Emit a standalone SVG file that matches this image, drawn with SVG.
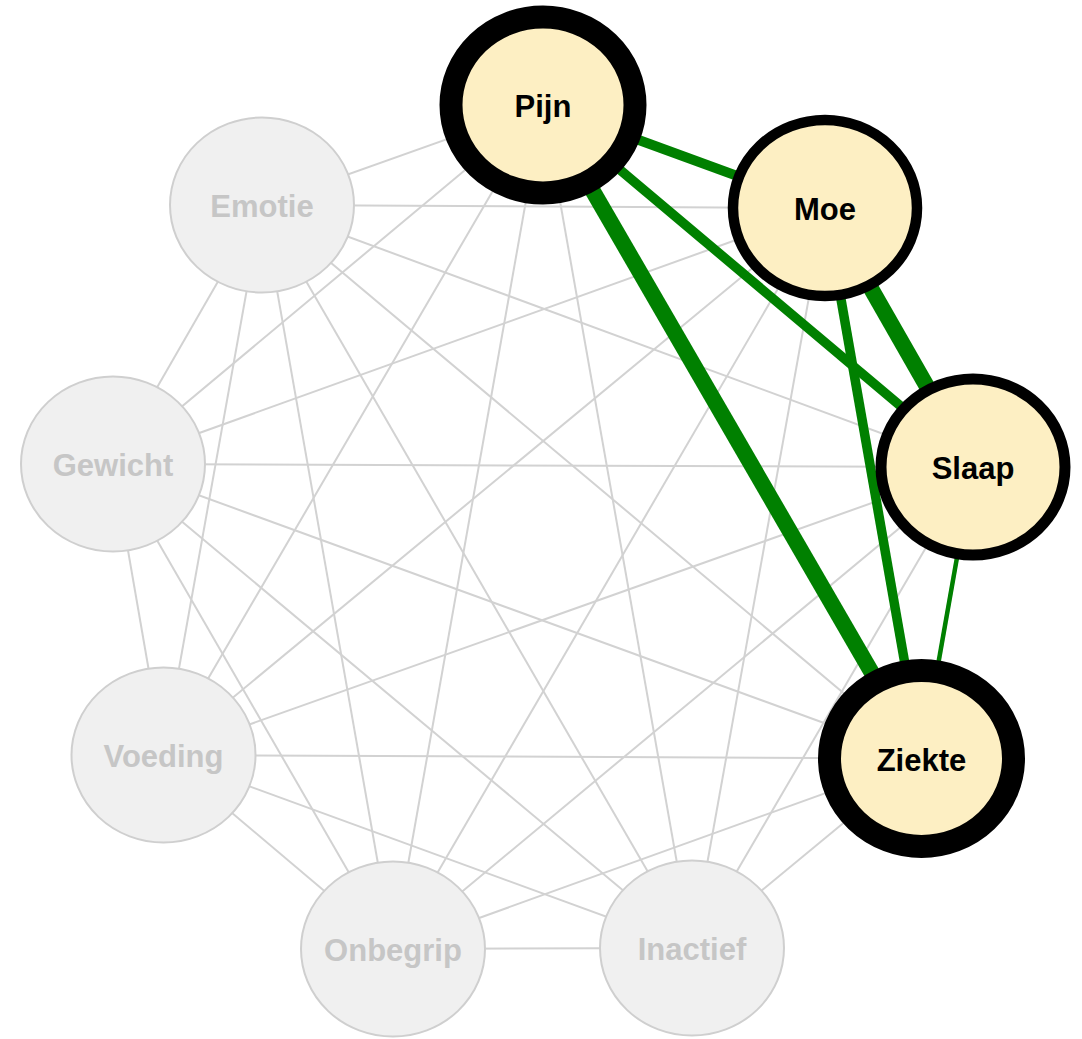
<svg xmlns="http://www.w3.org/2000/svg" width="1082" height="1039" viewBox="0 0 1082 1039">
  <style>
    .e { stroke: #d2d2d2; stroke-width: 2; fill: none; }
    .g { stroke: #008000; fill: none; }
    .on ellipse { fill: #fdefc3; stroke: #000000; }
    .off ellipse { fill: #f0f0f0; stroke: #cfcfcf; stroke-width: 2; }
    text { font-family: "Liberation Sans", Arial, sans-serif; font-weight: bold; font-size: 31px; text-anchor: middle; }
    .on text { fill: #000000; }
    .off text { fill: #c6c6c6; }
  </style>
  <rect width="1082" height="1039" fill="#ffffff"/>
  <!-- connectors: weak links in grey, strong links in green on top -->
  <g id="connectors">
    <!-- Emotie -->
    <line class="e" x1="262" y1="205" x2="543" y2="105"/>
    <line class="e" x1="262" y1="205" x2="825" y2="208"/>
    <line class="e" x1="262" y1="205" x2="973" y2="467"/>
    <line class="e" x1="262" y1="205" x2="921.5" y2="758.5"/>
    <line class="e" x1="262" y1="205" x2="692" y2="948"/>
    <line class="e" x1="262" y1="205" x2="393" y2="949"/>
    <line class="e" x1="262" y1="205" x2="163.5" y2="755"/>
    <line class="e" x1="262" y1="205" x2="113" y2="464"/>
    <!-- Gewicht -->
    <line class="e" x1="113" y1="464" x2="543" y2="105"/>
    <line class="e" x1="113" y1="464" x2="825" y2="208"/>
    <line class="e" x1="113" y1="464" x2="973" y2="467"/>
    <line class="e" x1="113" y1="464" x2="921.5" y2="758.5"/>
    <line class="e" x1="113" y1="464" x2="692" y2="948"/>
    <line class="e" x1="113" y1="464" x2="393" y2="949"/>
    <line class="e" x1="113" y1="464" x2="163.5" y2="755"/>
    <!-- Voeding -->
    <line class="e" x1="163.5" y1="755" x2="543" y2="105"/>
    <line class="e" x1="163.5" y1="755" x2="825" y2="208"/>
    <line class="e" x1="163.5" y1="755" x2="973" y2="467"/>
    <line class="e" x1="163.5" y1="755" x2="921.5" y2="758.5"/>
    <line class="e" x1="163.5" y1="755" x2="692" y2="948"/>
    <line class="e" x1="163.5" y1="755" x2="393" y2="949"/>
    <!-- Onbegrip -->
    <line class="e" x1="393" y1="949" x2="543" y2="105"/>
    <line class="e" x1="393" y1="949" x2="825" y2="208"/>
    <line class="e" x1="393" y1="949" x2="973" y2="467"/>
    <line class="e" x1="393" y1="949" x2="921.5" y2="758.5"/>
    <line class="e" x1="393" y1="949" x2="692" y2="948"/>
    <!-- Inactief -->
    <line class="e" x1="692" y1="948" x2="543" y2="105"/>
    <line class="e" x1="692" y1="948" x2="825" y2="208"/>
    <line class="e" x1="692" y1="948" x2="973" y2="467"/>
    <line class="e" x1="692" y1="948" x2="921.5" y2="758.5"/>
    <!-- green links -->
    <line class="g" x1="543" y1="105" x2="825" y2="208" stroke-width="10"/>
    <line class="g" x1="543" y1="105" x2="973" y2="467" stroke-width="9.5"/>
    <line class="g" x1="543" y1="105" x2="921.5" y2="758.5" stroke-width="16"/>
    <line class="g" x1="825" y1="208" x2="973" y2="467" stroke-width="16"/>
    <line class="g" x1="825" y1="208" x2="921.5" y2="758.5" stroke-width="9.5"/>
    <line class="g" x1="973" y1="467" x2="921.5" y2="758.5" stroke-width="4.5"/>
  </g>
  <g id="node-emotie" class="off">
    <ellipse cx="262" cy="205" rx="92" ry="87.5"/>
    <text x="262" y="217">Emotie</text>
  </g>
  <g id="node-gewicht" class="off">
    <ellipse cx="113" cy="464" rx="92" ry="87.5"/>
    <text x="113" y="476">Gewicht</text>
  </g>
  <g id="node-voeding" class="off">
    <ellipse cx="163.5" cy="755" rx="92" ry="87.5"/>
    <text x="163.5" y="767">Voeding</text>
  </g>
  <g id="node-onbegrip" class="off">
    <ellipse cx="393" cy="949" rx="92" ry="87.5"/>
    <text x="393" y="961">Onbegrip</text>
  </g>
  <g id="node-inactief" class="off">
    <ellipse cx="692" cy="948" rx="92" ry="87.5"/>
    <text x="692" y="960">Inactief</text>
  </g>
  <g id="node-pijn" class="on">
    <ellipse cx="543" cy="105" rx="92" ry="88" stroke-width="23"/>
    <text x="543" y="117">Pijn</text>
  </g>
  <g id="node-moe" class="on">
    <ellipse cx="825" cy="208" rx="92" ry="88" stroke-width="10.5"/>
    <text x="825" y="220">Moe</text>
  </g>
  <g id="node-slaap" class="on">
    <ellipse cx="973" cy="467" rx="92" ry="88" stroke-width="11"/>
    <text x="973" y="479">Slaap</text>
  </g>
  <g id="node-ziekte" class="on">
    <ellipse cx="921.5" cy="758.5" rx="92" ry="88" stroke-width="23"/>
    <text x="921.5" y="770.5">Ziekte</text>
  </g>
</svg>
